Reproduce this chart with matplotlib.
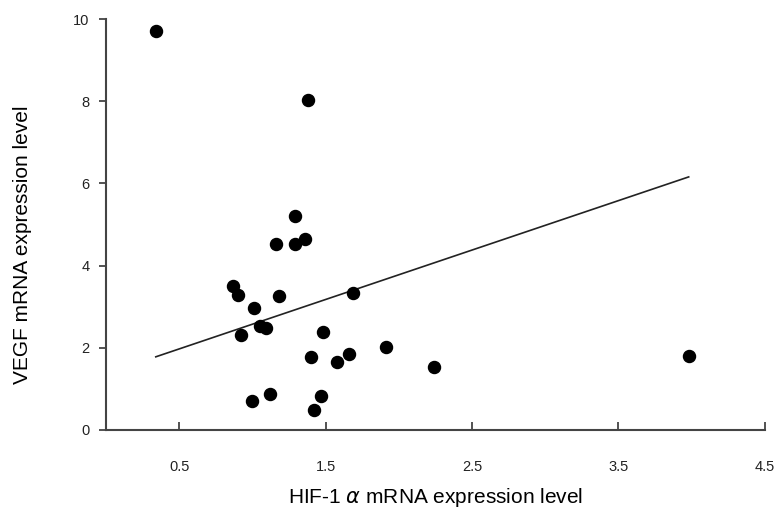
import matplotlib.pyplot as plt

plt.rcParams['font.family'] = ['Liberation Sans', 'DejaVu Sans']

# HIF-1a vs VEGF mRNA expression
hif1a = [0.34, 1.38, 1.29, 1.16, 1.29, 1.36, 0.87, 0.905, 1.18, 1.69, 1.01, 1.05,
         1.09, 0.92, 1.48, 1.91, 1.40, 1.66, 1.58, 2.24, 1.00, 1.12, 1.47, 1.42, 3.98]
vegf = [9.71, 8.02, 5.22, 4.52, 4.52, 4.65, 3.51, 3.28, 3.25, 3.34, 2.97, 2.54,
        2.47, 2.31, 2.39, 2.02, 1.78, 1.85, 1.65, 1.53, 0.71, 0.87, 0.82, 0.49, 1.81]

# regression line end points
fit_x = [0.34, 3.98]
fit_y = [1.78, 6.16]

xticks = [0.5, 1.5, 2.5, 3.5, 4.5]
xticklabels = ['0.5', '1.5', '2.5', '3.5', '4.5']
yticks = [0, 2, 4, 6, 8, 10]

fig = plt.figure(figsize=(7.76, 5.18), dpi=100)
ax = fig.add_axes([0.1366, 0.170, 0.849, 0.793])

ax.scatter(hif1a, vegf, s=75, color='black', zorder=3, clip_on=False)
ax.plot(fit_x, fit_y, color='#222222', linewidth=1.2)

ax.set_xlim(0, 4.5)
ax.set_ylim(0, 10)
ax.set_xticks(xticks)
ax.set_xticklabels(xticklabels)
ax.set_yticks(yticks)

for s in ['top', 'right']:
    ax.spines[s].set_visible(False)
for s in ['left', 'bottom']:
    ax.spines[s].set_color('#444444')
    ax.spines[s].set_linewidth(1.5)

ax.tick_params(axis='x', direction='in', length=6, width=1.3, color='#444444',
               pad=22, labelsize=10.5, labelcolor='#222222')
ax.tick_params(axis='y', direction='out', length=5, width=1.3, color='#444444',
               pad=7, labelsize=10.5, labelcolor='#222222')

ax.set_xlabel('HIF-1 $\\alpha$ mRNA expression level', fontsize=15, labelpad=8)
ax.set_ylabel('VEGF mRNA expression level', fontsize=15)
ax.yaxis.set_label_coords(-0.113, 0.45)

plt.savefig('out.png', dpi=100)
